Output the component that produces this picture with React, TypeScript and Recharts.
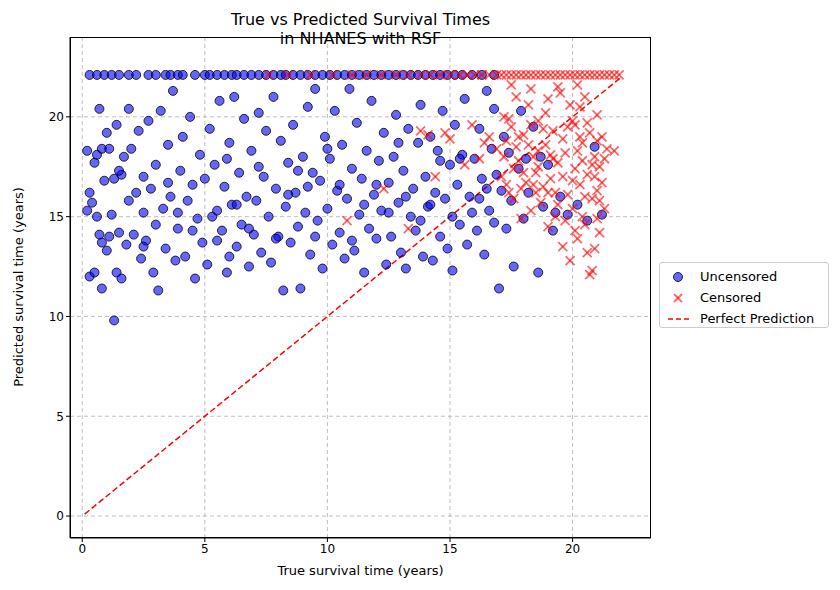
import React from 'react';
import { ScatterChart, Scatter, XAxis, YAxis, CartesianGrid, ReferenceLine } from 'recharts';

const xTicks = [0, 5, 10, 15, 20];
const yTicks = [0, 5, 10, 15, 20];

const TOP = 22.1;

const uncensoredScatter: [number, number][] = [
  [0.2,15.3],[0.2,18.3],[0.3,12.0],[0.3,16.2],[0.4,15.7],[0.5,17.7],[0.5,12.2],[0.6,18.1],[0.6,15.0],[0.7,14.1],
  [0.7,20.4],[0.8,11.4],[0.8,13.7],[0.8,18.4],[0.9,16.8],[1.0,19.2],[1.0,13.3],[1.1,14.0],[1.1,18.4],[1.2,15.1],
  [1.3,9.8],[1.3,16.9],[1.4,19.6],[1.4,12.2],[1.5,14.2],[1.6,17.1],[1.6,11.9],[1.7,18.0],[1.8,13.6],[1.9,20.4],
  [1.9,15.8],[2.0,18.4],[2.1,14.1],[2.2,16.2],[2.3,19.3],[2.4,12.9],[2.5,15.2],[2.5,17.0],[2.6,13.8],[2.7,19.8],
  [2.8,16.4],[2.9,12.2],[3.0,14.6],[3.0,17.6],[3.1,11.3],[3.2,20.3],[3.3,15.4],[3.4,13.4],[3.5,18.6],[3.6,16.0],
  [3.7,21.3],[3.8,12.8],[3.9,14.4],[4.0,17.3],[4.1,19.0],[4.2,13.0],[4.3,15.8],[4.4,20.0],[4.5,16.6],[4.6,11.9],
  [4.7,14.9],[4.8,18.1],[4.9,13.7],[5.0,16.9],[5.1,12.6],[5.2,19.4],[5.3,15.0],[5.4,17.6],[5.5,13.8],[5.6,20.8],
  [5.7,14.3],[5.8,16.5],[5.9,12.2],[6.0,18.7],[6.1,15.6],[6.2,21.0],[6.3,13.5],[6.4,17.2],[6.5,14.6],[6.6,19.9],
  [6.7,16.0],[6.8,12.5],[6.9,18.3],[7.0,14.1],[7.1,15.8],[7.2,20.2],[7.3,13.2],[7.4,17.0],[7.5,19.3],[7.6,15.0],
  [7.7,12.7],[7.8,21.0],[7.9,16.4],[8.0,14.0],[8.1,18.8],[8.2,11.3],[8.3,15.5],[8.4,17.7],[8.5,13.7],[8.6,19.6],
  [8.7,16.2],[8.8,14.5],[8.9,11.4],[9.0,18.0],[9.1,15.2],[9.2,20.5],[9.3,13.1],[9.4,17.2],[9.5,21.4],[9.6,14.8],
  [9.7,16.8],[9.8,12.4],[9.9,19.0],[10.0,15.4],[10.1,17.9],[10.2,13.6],[10.3,20.3],[10.4,16.3],[10.5,14.2],[10.6,18.6],
  [10.7,12.9],[10.8,15.9],[10.9,21.4],[11.0,17.4],[11.1,13.3],[11.2,19.7],[11.3,15.1],[11.4,16.9],[11.5,12.2],[11.6,18.3],
  [11.7,14.4],[11.8,20.8],[11.9,16.1],[12.0,13.9],[12.1,17.8],[12.2,15.3],[12.3,19.2],[12.4,12.6],[12.5,16.7],[12.6,14.0],
  [12.7,18.0],[12.8,20.1],[12.9,15.7],[13.0,13.2],[13.1,17.3],[13.2,12.4],[13.3,19.4],[13.4,15.0],[13.5,16.4],[13.6,14.3],
  [13.7,18.7],[13.8,20.6],[13.9,13.0],[14.0,17.0],[14.1,15.5],[14.2,19.0],[14.3,12.8],[14.4,16.2],[14.5,18.3],[14.6,14.0],
  [14.7,20.3],[14.8,15.9],[14.9,13.4],[15.0,17.6],[15.1,12.3],[15.2,19.6],[15.3,16.6],[15.4,14.6],[15.5,18.1],[15.6,20.9],
  [15.7,13.6],[15.8,16.0],[15.9,15.2],[16.0,17.9],[16.1,14.3],[16.2,19.4],[16.3,16.9],[16.4,13.1],[16.5,21.3],[16.6,15.3],
  [16.7,18.4],[16.8,14.7],[16.9,17.1],[17.0,11.4],[17.1,16.3],[17.2,19.0],[17.3,14.4],[17.5,15.8],[17.6,12.5],[17.8,17.4],
  [18.0,14.9],[18.2,16.2],[18.4,19.5],[18.6,12.2],[18.8,15.5],[19.0,17.6],[19.2,14.3],[19.5,16.0],[19.8,15.1],[20.2,15.6],
  [20.6,14.8],[20.9,18.5],[21.2,15.1],[5.5,15.3],[6.3,15.6],[7.2,17.5],[8.4,16.1],[9.5,14.0],[10.5,16.6],[11.5,15.6],
  [12.5,15.2],[13.8,14.8],[14.6,17.8],[15.4,17.9],[16.2,15.9],[3.5,16.7],[2.5,13.5],[4.5,14.3],[6.8,14.4],[9.2,16.5],
  [11.0,13.8],[12.9,18.7],[16.8,20.4],[1.5,17.3],[3.9,15.2],[5.9,17.9],[7.9,13.9],[10.0,18.4],[12.0,16.6],[14.2,15.6],
  [17.4,18.2],[18.1,17.9],[18.7,18.0],[19.3,15.2],[17.9,20.3],[16.5,16.4],[15.1,15.0],[13.2,16.0],[8.8,17.3],[6.0,13.0],
];

const uncensoredTopX = [
  0.3,0.6,0.9,1.2,1.5,1.9,2.2,2.7,3.0,3.4,3.6,3.9,4.1,4.6,5.0,5.2,5.5,5.8,6.1,6.3,6.6,6.9,7.2,7.5,7.8,8.1,8.3,8.6,
  8.9,9.2,9.5,9.8,10.1,10.4,10.7,11.0,11.3,11.6,11.9,12.2,12.5,12.8,13.1,13.4,13.7,14.0,14.3,14.6,14.9,15.2,15.5,15.9,16.3,16.8,
];

const censoredScatter: [number, number][] = [
  [13.3,14.4],[13.8,19.3],[14.1,19.1],[14.4,17.0],[15.0,18.9],[15.6,17.6],[16.2,17.9],[16.6,19.0],[16.9,18.4],[17.1,17.0],
  [17.2,20.0],[17.3,18.8],[17.4,16.2],[17.5,19.5],[17.6,15.9],[17.7,21.0],[17.8,17.8],[17.9,14.9],[18.0,19.1],[18.1,16.7],
  [18.2,20.6],[18.3,15.3],[18.4,18.0],[18.5,17.2],[18.6,19.8],[18.7,15.7],[18.8,16.5],[18.9,18.6],[19.0,14.5],[19.0,20.9],
  [19.1,16.9],[19.2,19.3],[19.3,15.0],[19.4,17.7],[19.5,21.2],[19.6,13.5],[19.7,18.2],[19.8,16.1],[19.9,12.8],[20.0,19.8],
  [20.0,15.4],[20.1,17.4],[20.2,13.9],[20.3,20.5],[20.3,16.6],[20.4,18.7],[20.5,14.6],[20.5,21.0],[20.6,17.1],[20.7,12.1],
  [20.7,19.2],[20.8,15.9],[20.9,13.4],[20.9,18.0],[21.0,16.3],[21.0,20.1],[21.1,14.2],[21.1,17.5],[21.2,19.0],[21.3,15.4],
  [20.8,12.3],[21.4,18.4],[21.7,18.3],[19.3,16.2],[18.5,16.2],[17.9,16.4],[20.4,17.8],[19.6,18.9],[20.1,19.6],
  [17.5,21.6],[18.3,21.4],[19.4,21.5],[20.2,21.6],[10.8,14.8],[12.3,16.4],
  [17.2,18.0],[17.4,19.9],[17.6,17.4],[17.8,19.0],[18.0,17.2],[18.2,18.6],[18.4,16.6],[18.6,17.5],[18.8,19.4],[19.0,16.2],
  [19.2,17.9],[19.4,15.6],[19.6,17.0],[19.8,19.5],[20.0,16.8],[20.2,18.3],[20.4,15.0],[20.6,19.7],[20.8,17.6],[21.0,18.8],
  [21.2,16.7],[20.1,14.3],[20.6,13.2],[21.1,15.8],[19.9,20.6],[18.9,20.2],[17.7,18.5],[18.3,19.6],[19.1,18.1],[20.5,16.0],
  [20.9,17.0],[21.3,17.9],[19.7,14.8],[18.6,18.3],[17.3,16.6],[16.4,18.7],[15.9,19.6],[14.8,19.2],[20.3,19.0],[21.0,14.9],
];

const censoredTopX = [
  7.6,8.4,9.3,10.2,11.0,11.6,12.2,12.8,13.3,13.8,14.2,14.6,15.0,15.4,15.7,16.0,16.3,16.6,16.9,17.1,17.3,17.5,
  17.7,17.9,18.1,18.3,18.5,18.7,18.9,19.1,19.3,19.5,19.7,19.9,20.1,20.3,20.5,20.7,20.9,21.1,21.3,21.5,21.7,21.9,
];

const uncensored = [
  ...uncensoredScatter.map(([x, y]) => ({ x, y })),
  ...uncensoredTopX.map((x) => ({ x, y: TOP })),
];
const censored = [
  ...censoredScatter.map(([x, y]) => ({ x, y })),
  ...censoredTopX.map((x) => ({ x, y: TOP })),
];

const Cross = (props: any) => {
  const { cx, cy } = props;
  const s = 4.5;
  return (
    <g stroke="red" strokeOpacity={0.6} strokeWidth={1.8}>
      <line x1={cx - s} y1={cy - s} x2={cx + s} y2={cy + s} />
      <line x1={cx - s} y1={cy + s} x2={cx + s} y2={cy - s} />
    </g>
  );
};

const Dot = (props: any) => (
  <circle cx={props.cx} cy={props.cy} r={4.5} fill="#0000ff" fillOpacity={0.6} stroke="#000" strokeOpacity={0.8} strokeWidth={1} />
);

const font = 'DejaVu Sans, sans-serif';

export default function App() {
  return (
    <div style={{ position: 'absolute', left: 0, top: 0, width: 840, height: 590, background: '#fff', fontFamily: font }}>
      <ScatterChart width={840} height={590} margin={{ top: 37, right: 189, bottom: 22, left: 10 }}>
        <CartesianGrid stroke="#b0b0b0" strokeDasharray="4 3" strokeOpacity={0.8} horizontalValues={yTicks} verticalValues={xTicks} />
        <XAxis type="number" dataKey="x" domain={[-0.5, 23.2]} ticks={xTicks} allowDataOverflow
          stroke="#000" tickSize={4} tick={{ fill: '#000', fontSize: 12, fontFamily: font }} height={30} />
        <YAxis type="number" dataKey="y" domain={[-1.1, 24]} ticks={yTicks} allowDataOverflow
          stroke="#000" tickSize={4} tick={{ fill: '#000', fontSize: 12, fontFamily: font }} width={60} />
        <ReferenceLine segment={[{ x: 0.1, y: 0.1 }, { x: 22, y: 22 }]} stroke="red" strokeWidth={1.5} strokeDasharray="6 3" ifOverflow="visible" />
        <Scatter data={uncensored} shape={Dot} isAnimationActive={false} />
        <Scatter data={censored} shape={Cross} isAnimationActive={false} />
      </ScatterChart>
      <div style={{ position: 'absolute', left: 70, top: 37, width: 581, height: 501, border: '1px solid #000', boxSizing: 'border-box', pointerEvents: 'none' }} />
      <div style={{ position: 'absolute', left: 70, width: 581, top: 10, textAlign: 'center', fontSize: 16, lineHeight: '19px' }}>
        True vs Predicted Survival Times<br />in NHANES with RSF
      </div>
      <div style={{ position: 'absolute', left: 70, width: 581, top: 563, textAlign: 'center', fontSize: 13 }}>True survival time (years)</div>
      <div style={{ position: 'absolute', left: 18, top: 287, fontSize: 13, transform: 'translate(-50%,-50%) rotate(-90deg)', whiteSpace: 'nowrap' }}>
        Predicted survival time (years)
      </div>
      <div style={{ position: 'absolute', left: 659, top: 262, width: 170, height: 66, border: '1px solid #ccc', borderRadius: 3, fontSize: 13, boxSizing: 'border-box', padding: '3px 0 0 8px' }}>
        <div style={{ display: 'flex', alignItems: 'center', height: 21 }}>
          <svg width={22} height={12}><circle cx={10} cy={6} r={4.5} fill="#0000ff" fillOpacity={0.6} stroke="#000" strokeOpacity={0.8} /></svg>
          <span style={{ marginLeft: 10 }}>Uncensored</span>
        </div>
        <div style={{ display: 'flex', alignItems: 'center', height: 21 }}>
          <svg width={22} height={12}><g stroke="red" strokeOpacity={0.6} strokeWidth={1.8}><line x1={6} y1={2} x2={14} y2={10} /><line x1={6} y1={10} x2={14} y2={2} /></g></svg>
          <span style={{ marginLeft: 10 }}>Censored</span>
        </div>
        <div style={{ display: 'flex', alignItems: 'center', height: 21 }}>
          <svg width={22} height={12}><line x1={0} y1={6} x2={22} y2={6} stroke="red" strokeWidth={1.5} strokeDasharray="5 3" /></svg>
          <span style={{ marginLeft: 10 }}>Perfect Prediction</span>
        </div>
      </div>
    </div>
  );
}
